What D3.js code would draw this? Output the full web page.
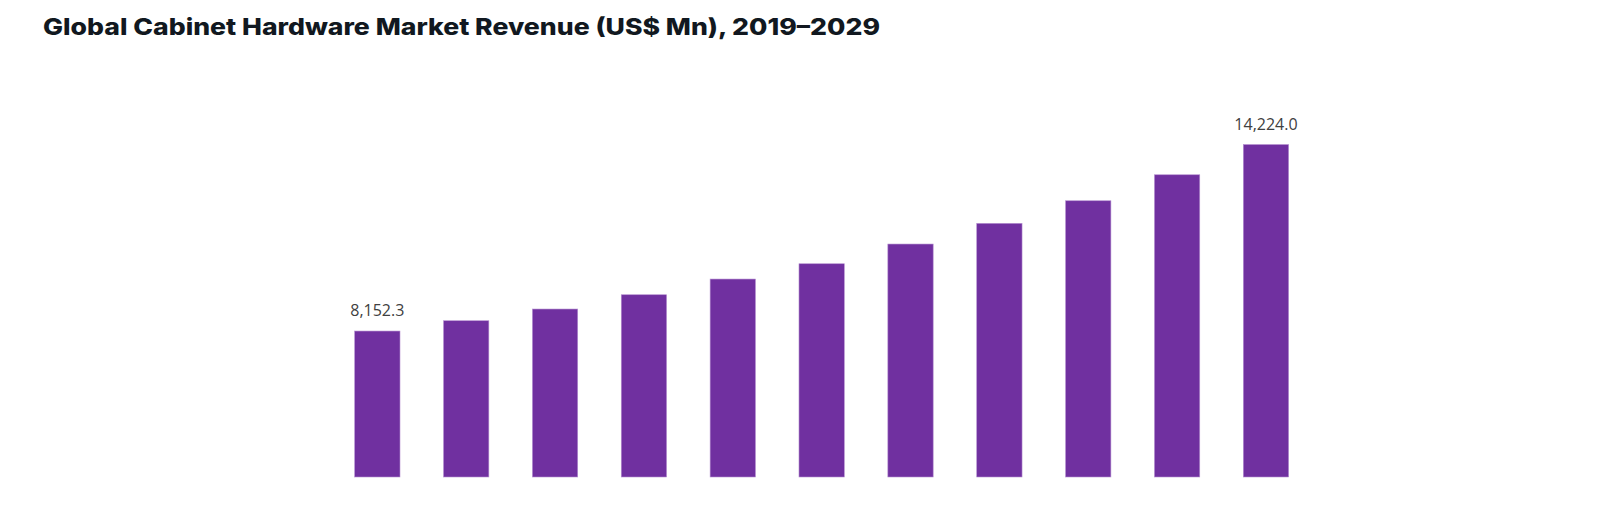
<!DOCTYPE html>
<html>
<head>
<meta charset="utf-8">
<script src="https://cdn.jsdelivr.net/npm/d3@7"></script>
<style>
  html, body { margin: 0; padding: 0; background: #ffffff; }
  svg { display: block; }
</style>
</head>
<body>
<svg id="chart" width="1600" height="520"></svg>
<script>
const title = "Global Cabinet Hardware Market Revenue (US$ Mn), 2019–2029";
const years = ["2019","2020","2021","2022","2023","2024","2025","2026","2027","2028","2029"];
const revenue = [8152.3, 8488, 8869, 9334, 9845, 10343, 10985, 11658, 12394, 13240, 14224.0];
const labelled = ["2019", "2029"];

const svg = d3.select("#chart");

// Title
const t = svg.append("text")
  .attr("x", 43)
  .attr("y", 35)
  .attr("font-family", "Inter, 'Open Sans', sans-serif")
  .attr("font-weight", 800)
  .attr("font-size", 23)
  .attr("fill", "#111820")
  .text(title);
const tw = t.node().getComputedTextLength();
if (Math.abs(tw - 837) > 4) {
  t.attr("textLength", 837).attr("lengthAdjust", "spacingAndGlyphs");
}

const x = d3.scaleBand()
  .domain(years)
  .range([332.9, 1310.4])
  .paddingInner(0.49)
  .paddingOuter(0.245);

const y = d3.scaleLinear()
  .domain([3400, 16000])
  .range([477, 90]);

svg.append("g")
  .selectAll("rect")
  .data(years)
  .join("rect")
  .attr("x", d => x(d))
  .attr("width", x.bandwidth())
  .attr("y", (d, i) => y(revenue[i]))
  .attr("height", (d, i) => y.range()[0] - y(revenue[i]))
  .attr("fill", "#7030A0")
  .attr("stroke", "#b58fd0")
  .attr("stroke-width", 0.6);

const fmt = d3.format(",.1f");
svg.append("g")
  .selectAll("text")
  .data(years.map((d, i) => ({ year: d, value: revenue[i] })).filter(d => labelled.includes(d.year)))
  .join("text")
  .attr("x", d => x(d.year) + x.bandwidth() / 2)
  .attr("y", d => y(d.value) - 15)
  .attr("text-anchor", "middle")
  .attr("font-family", "'Open Sans', sans-serif")
  .attr("font-size", 16)
  .attr("fill", "#404040")
  .text(d => fmt(d.value));
</script>
</body>
</html>
